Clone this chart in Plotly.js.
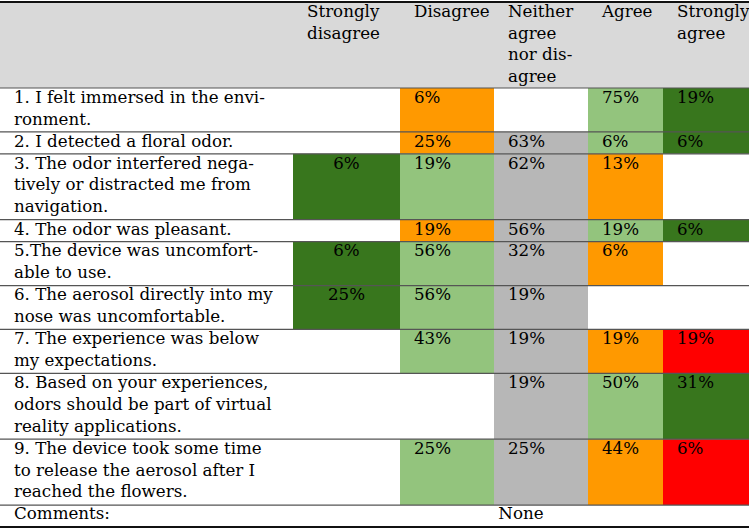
<!DOCTYPE html>
<html><head><meta charset="utf-8">
<script src="https://cdn.plot.ly/plotly-3.0.1.min.js"></script>
<style>html,body{margin:0;padding:0;background:#fff}</style>
</head><body><div id="chart" style="width:749px;height:529px"></div>
<script>
// ---------------- data ----------------
const columnHeaders = ["Strongly<br>disagree", "Disagree", "Neither<br>agree<br>nor dis-<br>agree", "Agree", "Strongly<br>agree"];
const statements = [
  "1. I felt immersed in the envi-<br>ronment.",
  "2. I detected a floral odor.",
  "3. The odor interfered nega-<br>tively or distracted me from<br>navigation.",
  "4. The odor was pleasant.",
  "5.The device was uncomfort-<br>able to use.",
  "6. The aerosol directly into my<br>nose was uncomfortable.",
  "7. The experience was below<br>my expectations.",
  "8. Based on your experiences,<br>odors should be part of virtual<br>reality applications.",
  "9. The device took some time<br>to release the aerosol after I<br>reached the flowers."
];
const stronglyDisagree = [null, null, 6, null, 6, 25, null, null, null];
const disagree = [6, 25, 19, 19, 56, 56, 43, null, 25];
const neitherAgreeNorDisagree = [null, 63, 62, 56, 32, 19, 19, 19, 25];
const agree = [75, 6, 13, 19, 6, null, 19, 50, 44];
const stronglyAgree = [19, 6, null, 6, null, null, 19, 31, 6];
const commentsLabel = "Comments:";
const commentsValue = "None";

// ---------------- styles ----------------
const O = "#ff9900", LG = "#93c47d", DG = "#38761d", GR = "#b7b7b7", RD = "#ff0000";
const cellColors = [
  [null, null, DG, null, DG, DG, null, null, null],
  [O, O, LG, O, LG, LG, LG, null, LG],
  [null, GR, GR, GR, GR, GR, GR, GR, GR],
  [LG, LG, O, LG, O, null, O, LG, O],
  [DG, DG, null, DG, null, null, RD, DG, RD]
];
const headerFill = "#d9d9d9";
const FONT = {family: "'DejaVu Serif', 'Liberation Serif', serif", size: 16.7, color: "#000"};

// ---------------- layout geometry ----------------
const W = 749, H = 529;
const colEdges = [0, 293, 400, 494, 588, 663, 749];
const topY = 2, headerH = 86, lineH = 21.95;
const padX = 14, padY = 2.3;

const columns = [stronglyDisagree, disagree, neitherAgreeNorDisagree, agree, stronglyAgree];
const nLines = s => s.split("<br>").length;
const rowTops = [], rowHeights = [];
let y = topY + headerH;
statements.forEach(s => { rowTops.push(y); const h = nLines(s) * lineH; rowHeights.push(h); y += h; });
const commentsTop = y, commentsH = lineH;
const bottomY = commentsTop + commentsH;

const traces = [];
// header background
traces.push({type: "bar", orientation: "h", base: [colEdges[0]], x: [colEdges[6] - colEdges[0]],
  y: [topY + headerH / 2], width: [headerH], marker: {color: headerFill, line: {width: 0}},
  hoverinfo: "skip", showlegend: false});
// cells
columns.forEach((vals, j) => {
  const idx = vals.map((v, i) => i).filter(i => vals[i] !== null);
  traces.push({type: "bar", orientation: "h",
    base: idx.map(() => colEdges[j + 1]),
    x: idx.map(() => colEdges[j + 2] - colEdges[j + 1]),
    y: idx.map(i => rowTops[i] + rowHeights[i] / 2),
    width: idx.map(i => rowHeights[i]),
    marker: {color: idx.map(i => cellColors[j][i]), line: {width: 0}},
    hoverinfo: "skip", showlegend: false});
});
// header text
traces.push({type: "scatter", mode: "text", textposition: "bottom right", cliponaxis: false,
  x: columnHeaders.map((h, j) => colEdges[j + 1] + padX), y: columnHeaders.map(() => topY + padY),
  text: columnHeaders, textfont: FONT, hoverinfo: "skip", showlegend: false});
// statements
traces.push({type: "scatter", mode: "text", textposition: "bottom right", cliponaxis: false,
  x: statements.map(() => colEdges[0] + padX).concat([colEdges[0] + padX]),
  y: rowTops.map(t => t + padY).concat([commentsTop + padY - 1]),
  text: statements.concat([commentsLabel]), textfont: FONT, hoverinfo: "skip", showlegend: false});
// values
columns.forEach((vals, j) => {
  const idx = vals.map((v, i) => i).filter(i => vals[i] !== null);
  const centered = j === 0;
  traces.push({type: "scatter", mode: "text", textposition: centered ? "bottom center" : "bottom right", cliponaxis: false,
    x: idx.map(() => centered ? (colEdges[j + 1] + colEdges[j + 2]) / 2 : colEdges[j + 1] + padX),
    y: idx.map(i => rowTops[i] + padY),
    text: idx.map(i => vals[i] + "%"), textfont: FONT, hoverinfo: "skip", showlegend: false});
});
// comments value, centred across the merged cell
traces.push({type: "scatter", mode: "text", textposition: "bottom center", cliponaxis: false,
  x: [(colEdges[1] + colEdges[6]) / 2], y: [commentsTop + padY - 1], text: [commentsValue],
  textfont: FONT, hoverinfo: "skip", showlegend: false});
// inner rules
const inner = [topY + headerH].concat(rowTops.slice(1), [commentsTop]);
const rx = [], ry = [];
inner.forEach(e => { rx.push(colEdges[0], colEdges[6], null); ry.push(e, e, null); });
traces.push({type: "scatter", mode: "lines", x: rx, y: ry, line: {color: "#555", width: 1.2},
  hoverinfo: "skip", showlegend: false});
// outer rules
traces.push({type: "scatter", mode: "lines", x: [colEdges[0], colEdges[6], null, colEdges[0], colEdges[6]],
  y: [topY, topY, null, bottomY, bottomY], line: {color: "#111", width: 1.8},
  hoverinfo: "skip", showlegend: false});

const layout = {
  width: W, height: H, margin: {l: 0, r: 0, t: 0, b: 0},
  paper_bgcolor: "#fff", plot_bgcolor: "#fff",
  xaxis: {range: [0, W], visible: false, fixedrange: true},
  yaxis: {range: [H, 0], visible: false, fixedrange: true},
  barmode: "overlay", showlegend: false, font: FONT
};
Plotly.newPlot("chart", traces, layout, {staticPlot: true, displayModeBar: false});
</script></body></html>
